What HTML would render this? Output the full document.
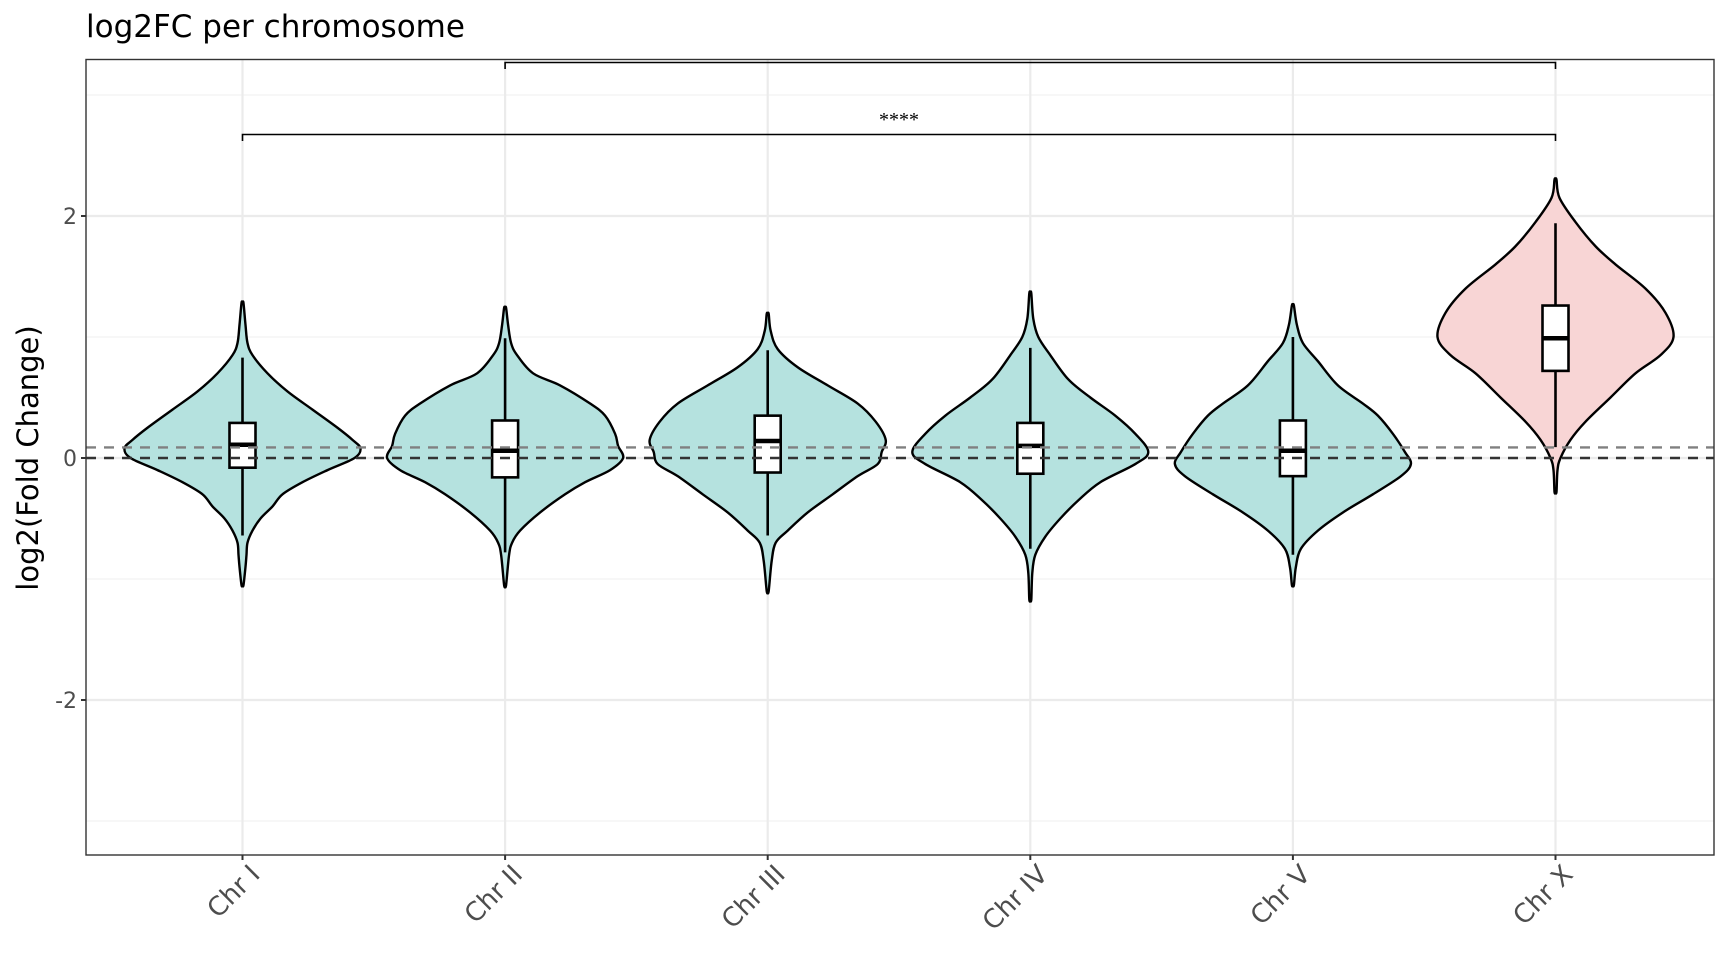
<!DOCTYPE html>
<html><head><meta charset="utf-8">
<style>html,body{margin:0;padding:0;background:#fff;}svg{display:block;}</style>
</head><body>
<svg id="s" width="1728" height="960" xmlns="http://www.w3.org/2000/svg" font-family="DejaVu Sans, Liberation Sans, sans-serif">
<rect width="1728" height="960" fill="#fff"/>
<g id="grid"></g>
<g id="vio"></g>
<g id="ann"></g>
<text x="86" y="37" font-size="31" fill="#000">log2FC per chromosome</text>
<text transform="translate(38,458) rotate(-90)" text-anchor="middle" font-size="29" fill="#000">log2(Fold Change)</text>
</svg>
<script>
const NS="http://www.w3.org/2000/svg";
const L=86,R=1714,T=59.5,B=855,Z=458,U=121;
const Y=v=>Z-v*U;
const xs=[0,1,2,3,4,5].map(i=>242.5+262.6*i);
function el(p,tag,a,txt){const e=document.createElementNS(NS,tag);for(const k in a)e.setAttribute(k,a[k]);if(txt!==undefined)e.textContent=txt;p.appendChild(e);return e;}
const g=document.getElementById('grid'),s=document.getElementById('s');
[-3,-1,1,3].forEach(v=>el(g,'line',{x1:L,x2:R,y1:Y(v),y2:Y(v),stroke:'#f2f2f2','stroke-width':1.2}));
[-2,0,2].forEach(v=>el(g,'line',{x1:L,x2:R,y1:Y(v),y2:Y(v),stroke:'#ebebeb','stroke-width':2.2}));
xs.forEach(x=>el(g,'line',{x1:x,x2:x,y1:T,y2:B,stroke:'#ebebeb','stroke-width':2.2}));
[[2,'2'],[0,'0'],[-2,'-2']].forEach(([v,t])=>{el(g,'line',{x1:L-5,x2:L,y1:Y(v),y2:Y(v),stroke:'#333','stroke-width':2});
 el(g,'text',{x:L-9,y:Y(v)+8,'text-anchor':'end','font-size':22,fill:'#4d4d4d'},t);});
const labs=['Chr I','Chr II','Chr III','Chr IV','Chr V','Chr X'];
xs.forEach((x,i)=>{el(g,'line',{x1:x,x2:x,y1:B,y2:B+5,stroke:'#333','stroke-width':2});
 el(g,'text',{transform:`translate(${x+6},${B+8}) rotate(-45)`,'text-anchor':'end','font-size':26,fill:'#4d4d4d',dy:'0.7em'},labs[i]);});
const profiles=[
[[1.28,1],[1.1,3],[0.95,5],[0.85,10],[0.7,25],[0.55,45],[0.4,70],[0.25,95],[0.15,110],[0.08,118],[0,112],[-0.1,85],[-0.2,60],[-0.3,40],[-0.4,30],[-0.5,18],[-0.6,10],[-0.7,5],[-0.8,4],[-0.9,3],[-1.05,1]],
[[1.24,1],[1.1,3],[0.95,6],[0.85,12],[0.7,28],[0.6,55],[0.45,85],[0.35,100],[0.2,110],[0.1,113],[0,118],[-0.1,105],[-0.2,80],[-0.3,60],[-0.45,35],[-0.6,15],[-0.7,7],[-0.8,4],[-1.05,1]],
[[1.19,1],[1.05,3],[0.9,10],[0.75,30],[0.6,60],[0.45,90],[0.3,108],[0.15,118],[0.05,114],[-0.05,110],[-0.15,90],[-0.3,65],[-0.45,40],[-0.6,20],[-0.7,8],[-0.85,4],[-1.1,1]],
[[1.36,1],[1.15,3],[1.0,8],[0.85,20],[0.65,38],[0.5,60],[0.35,85],[0.2,105],[0.05,118],[-0.05,105],[-0.2,70],[-0.35,48],[-0.5,30],[-0.65,15],[-0.8,5],[-0.95,2],[-1.17,1]],
[[1.26,1],[1.1,4],[0.95,10],[0.8,25],[0.6,45],[0.45,70],[0.35,85],[0.2,100],[0.05,112],[-0.05,118],[-0.15,108],[-0.3,80],[-0.45,50],[-0.6,25],[-0.75,8],[-0.9,3],[-1.05,1]],
[[2.3,1],[2.15,4],[1.95,20],[1.75,40],[1.6,60],[1.4,90],[1.2,110],[1.0,118],[0.85,105],[0.7,80],[0.5,55],[0.3,30],[0.15,15],[0.0,5],[-0.1,2],[-0.28,1]]];
const boxes=[[0.83,0.29,0.11,-0.08,-0.64],[0.99,0.31,0.06,-0.16,-0.78],[0.89,0.35,0.14,-0.12,-0.64],[0.91,0.29,0.10,-0.13,-0.75],[1.0,0.31,0.06,-0.15,-0.8],[1.94,1.26,0.99,0.72,0.09]];
function cr(pts){let d=`M${pts[0][0]},${pts[0][1]}`;const n=pts.length;
 for(let i=0;i<n-1;i++){const p0=pts[Math.max(i-1,0)],p1=pts[i],p2=pts[i+1],p3=pts[Math.min(i+2,n-1)];
 d+=` C${p1[0]+(p2[0]-p0[0])/6},${p1[1]+(p2[1]-p0[1])/6} ${p2[0]-(p3[0]-p1[0])/6},${p2[1]-(p3[1]-p1[1])/6} ${p2[0]},${p2[1]}`;}return d;}
const v=document.getElementById('vio');
profiles.forEach((p,i)=>{const x=xs[i];
 const right=p.map(([val,w])=>[x+w,Y(val)]);const left=p.slice().reverse().map(([val,w])=>[x-w,Y(val)]);
 const pts=[[x,Y(p[0][0])],...right,[x,Y(p[p.length-1][0])],...left,[x,Y(p[0][0])]];
 el(v,'path',{d:cr(pts)+'Z',fill:i==5?'#f8d5d5':'#b5e2df',stroke:'#000','stroke-width':2.4,'stroke-linejoin':'round'});
 const b=boxes[i];
 el(v,'line',{x1:x,x2:x,y1:Y(b[0]),y2:Y(b[4]),stroke:'#000','stroke-width':2.6});
 el(v,'rect',{x:x-13,y:Y(b[1]),width:26,height:Y(b[3])-Y(b[1]),fill:'#fff',stroke:'#000','stroke-width':2.6});
 el(v,'line',{x1:x-13,x2:x+13,y1:Y(b[2]),y2:Y(b[2]),stroke:'#000','stroke-width':4.5});
});
const a=document.getElementById('ann');
el(a,'line',{x1:L,x2:R,y1:Y(0.087),y2:Y(0.087),stroke:'#808080','stroke-width':2.4,'stroke-dasharray':'10,8'});
el(a,'line',{x1:L,x2:R,y1:Y(0),y2:Y(0),stroke:'#333','stroke-width':2.4,'stroke-dasharray':'10,8'});
el(a,'path',{d:`M${xs[1]},69 V62.5 H${xs[5]} V69`,fill:'none',stroke:'#000','stroke-width':1.6});
el(a,'path',{d:`M${xs[0]},141 V134.5 H${xs[5]} V141`,fill:'none',stroke:'#000','stroke-width':1.6});
el(a,'text',{x:(xs[0]+xs[5])/2,y:126,'text-anchor':'middle','font-size':20,fill:'#000','font-family':'Liberation Serif, serif'},'****');
el(a,'rect',{x:L,y:T,width:R-L,height:B-T,fill:'none',stroke:'#333','stroke-width':1.4});
</script>
</body></html>
